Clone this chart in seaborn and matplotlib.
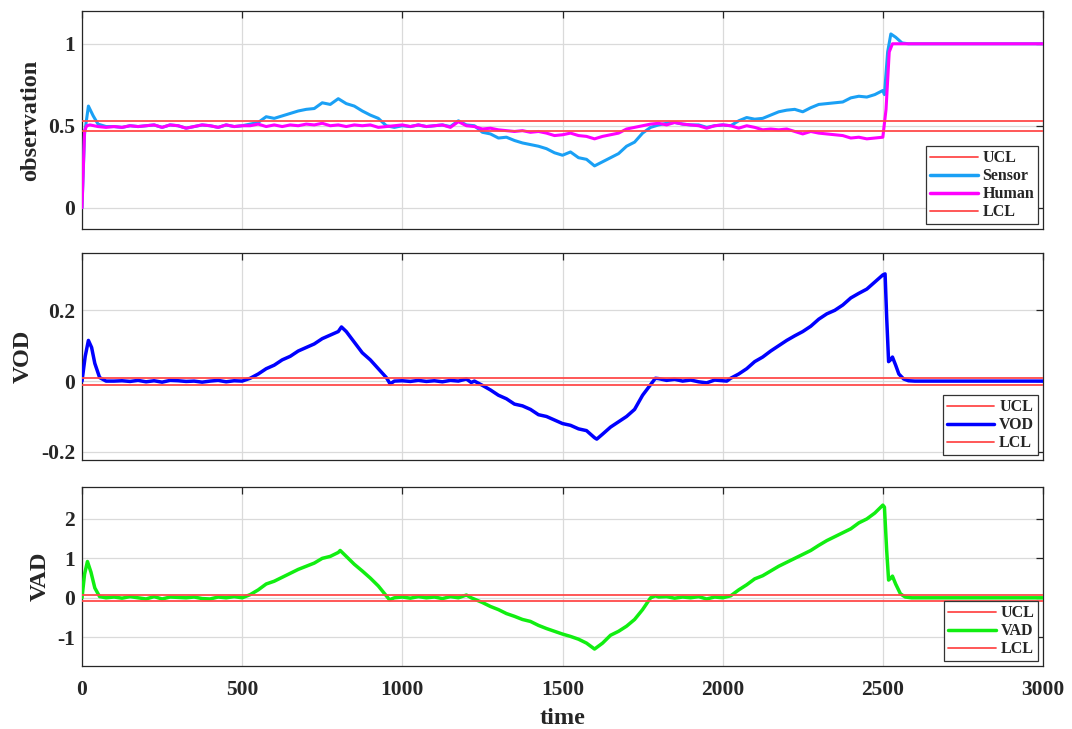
import numpy as np
import pandas as pd
import matplotlib
matplotlib.use("Agg")
import matplotlib.pyplot as plt
import seaborn as sns
from matplotlib.lines import Line2D

# ---------------- data ----------------
obs_ucl = [0.53]
obs_lcl = [0.47]
vod_ucl = [0.01]
vod_lcl = [-0.01]
vad_ucl = [0.08]
vad_lcl = [-0.08]

human_t = [0, 8, 15, 25, 50, 75, 100, 125, 150, 175, 200, 225, 250, 275, 300, 325, 350, 375, 400,
           425, 450, 475, 500, 525, 550, 575, 600, 625, 650, 675, 700, 725, 750, 775, 800, 825, 850,
           875, 900, 925, 950, 975, 1000, 1025, 1050, 1075, 1100, 1125, 1150, 1175, 1200, 1225, 1250,
           1275, 1300, 1325, 1350, 1375, 1400, 1425, 1450, 1475, 1500, 1525, 1550, 1575, 1600, 1625,
           1650, 1675, 1700, 1725, 1750, 1775, 1800, 1825, 1850, 1875, 1900, 1925, 1950, 1975, 2000,
           2025, 2050, 2075, 2100, 2125, 2150, 2175, 2200, 2225, 2250, 2275, 2300, 2325, 2350, 2375,
           2400, 2425, 2450, 2475, 2500, 2510, 2520, 2530, 3000]
human_v = [0.0, 0.47, 0.5, 0.505, 0.495, 0.49, 0.495, 0.49, 0.50, 0.495, 0.50, 0.505, 0.49, 0.505, 0.50,
           0.485, 0.495, 0.505, 0.50, 0.49, 0.505, 0.495, 0.50, 0.50, 0.51, 0.495, 0.505, 0.495, 0.505,
           0.50, 0.51, 0.505, 0.515, 0.50, 0.505, 0.495, 0.505, 0.50, 0.505, 0.49, 0.495, 0.50, 0.505,
           0.495, 0.505, 0.495, 0.50, 0.505, 0.49, 0.525, 0.50, 0.495, 0.48, 0.485, 0.475, 0.47, 0.465,
           0.47, 0.46, 0.465, 0.455, 0.44, 0.445, 0.455, 0.44, 0.435, 0.42, 0.435, 0.445, 0.455, 0.48,
           0.49, 0.50, 0.51, 0.515, 0.505, 0.52, 0.51, 0.505, 0.50, 0.485, 0.50, 0.505, 0.50, 0.485,
           0.50, 0.49, 0.475, 0.48, 0.475, 0.48, 0.465, 0.45, 0.465, 0.455, 0.45, 0.445, 0.44, 0.425,
           0.43, 0.42, 0.425, 0.43, 0.6, 0.95, 1.0, 1.0]

sensor_t = [0, 8, 20, 35, 50, 75, 100, 125, 150, 175, 200, 225, 250, 275, 300, 325, 350, 375, 400,
            425, 450, 475, 500, 525, 550, 575, 600, 625, 650, 675, 700, 725, 750, 775, 800, 825, 850,
            875, 900, 925, 950, 975, 1000, 1025, 1050, 1075, 1100, 1125, 1150, 1175, 1200, 1225, 1250,
            1275, 1300, 1325, 1350, 1375, 1400, 1425, 1450, 1475, 1500, 1525, 1550, 1575, 1600, 1625,
            1650, 1675, 1700, 1725, 1750, 1775, 1800, 1825, 1850, 1875, 1900, 1925, 1950, 1975, 2000,
            2025, 2050, 2075, 2100, 2125, 2150, 2175, 2200, 2225, 2250, 2275, 2300, 2325, 2350, 2375,
            2400, 2425, 2450, 2475, 2500, 2505, 2515, 2525, 2540, 2560, 2580, 3000]
sensor_v = [0.0, 0.45, 0.62, 0.56, 0.51, 0.495, 0.495, 0.49, 0.50, 0.495, 0.50, 0.505, 0.49, 0.505, 0.50,
            0.485, 0.495, 0.505, 0.50, 0.49, 0.505, 0.495, 0.50, 0.51, 0.52, 0.555, 0.545, 0.56, 0.575,
            0.59, 0.60, 0.605, 0.64, 0.63, 0.665, 0.635, 0.62, 0.59, 0.565, 0.545, 0.50, 0.49, 0.50,
            0.495, 0.505, 0.495, 0.50, 0.505, 0.495, 0.53, 0.505, 0.50, 0.46, 0.45, 0.425, 0.43, 0.41,
            0.395, 0.385, 0.375, 0.36, 0.335, 0.32, 0.34, 0.305, 0.295, 0.255, 0.28, 0.305, 0.33, 0.375,
            0.40, 0.455, 0.49, 0.505, 0.515, 0.52, 0.51, 0.505, 0.505, 0.49, 0.50, 0.505, 0.50, 0.53,
            0.55, 0.54, 0.545, 0.565, 0.585, 0.595, 0.60, 0.585, 0.61, 0.63, 0.635, 0.64, 0.645, 0.67,
            0.68, 0.675, 0.69, 0.715, 0.69, 0.95, 1.06, 1.04, 1.005, 1.0, 1.0]

vod_t = [0, 10, 20, 30, 40, 55, 75, 100, 125, 150, 175, 200, 225, 250, 275, 300, 325, 350, 375, 400,
         425, 450, 475, 500, 525, 550, 575, 600, 625, 650, 675, 700, 725, 750, 775, 800, 810, 825, 850,
         875, 900, 925, 950, 962, 975, 1000, 1025, 1050, 1075, 1100, 1125, 1150, 1175, 1200, 1215, 1225,
         1250, 1275, 1300, 1325, 1350, 1375, 1400, 1425, 1450, 1475, 1500, 1525, 1550, 1575, 1600, 1607,
         1625, 1650, 1675, 1700, 1725, 1750, 1775, 1790, 1800, 1825, 1850, 1875, 1900, 1925, 1950, 1975,
         2000, 2013, 2025, 2050, 2075, 2100, 2125, 2150, 2175, 2200, 2225, 2250, 2275, 2300, 2325, 2350,
         2375, 2400, 2425, 2450, 2475, 2500, 2507, 2512, 2518, 2524, 2530, 2540, 2550, 2565, 2580, 2600,
         3000]
vod_v = [0.0, 0.07, 0.115, 0.095, 0.05, 0.01, 0.0, 0.0, 0.001, -0.001, 0.002, -0.002, 0.001, -0.003,
         0.002, 0.001, -0.001, 0.0, -0.003, 0.0, 0.002, -0.002, 0.001, 0.0, 0.008, 0.02, 0.035, 0.045,
         0.06, 0.07, 0.085, 0.095, 0.105, 0.12, 0.13, 0.14, 0.153, 0.14, 0.11, 0.08, 0.06, 0.035, 0.01,
         -0.008, 0.0, 0.001, -0.001, 0.002, -0.001, 0.001, -0.002, 0.002, 0.0, 0.006, -0.004, 0.0,
         -0.012, -0.025, -0.04, -0.05, -0.065, -0.07, -0.08, -0.095, -0.10, -0.11, -0.12, -0.125,
         -0.135, -0.14, -0.16, -0.164, -0.15, -0.13, -0.115, -0.10, -0.08, -0.04, -0.01, 0.008, 0.007,
         0.002, 0.005, 0.0, 0.003, -0.002, -0.005, 0.003, 0.001, 0.0, 0.008, 0.02, 0.035, 0.055, 0.068,
         0.085, 0.10, 0.115, 0.128, 0.14, 0.155, 0.175, 0.19, 0.20, 0.215, 0.235, 0.248, 0.26, 0.28,
         0.30, 0.303, 0.18, 0.055, 0.06, 0.068, 0.045, 0.02, 0.006, 0.001, 0.0, 0.0]

vad_t = [0, 8, 17, 28, 40, 55, 75, 100, 125, 150, 175, 200, 225, 250, 275, 300, 325, 350, 375, 400,
         425, 450, 475, 500, 525, 550, 575, 600, 625, 650, 675, 700, 725, 750, 775, 800, 806, 825, 850,
         875, 900, 925, 950, 960, 975, 1000, 1025, 1050, 1075, 1100, 1125, 1150, 1175, 1200, 1215, 1250,
         1275, 1300, 1325, 1350, 1375, 1400, 1425, 1450, 1475, 1500, 1525, 1550, 1575, 1600, 1625, 1650,
         1675, 1700, 1725, 1750, 1775, 1790, 1800, 1825, 1850, 1875, 1900, 1925, 1950, 1975, 2000, 2025,
         2050, 2075, 2100, 2125, 2150, 2175, 2200, 2225, 2250, 2275, 2300, 2325, 2350, 2375, 2400, 2425,
         2450, 2475, 2500, 2505, 2512, 2518, 2525, 2530, 2540, 2555, 2570, 2590, 3000]
vad_v = [0.0, 0.6, 0.92, 0.65, 0.25, 0.03, 0.0, 0.02, -0.01, 0.03, 0.0, -0.03, 0.03, -0.03, 0.02,
         0.01, 0.0, 0.02, -0.02, -0.03, 0.02, 0.0, 0.03, 0.0, 0.08, 0.2, 0.35, 0.42, 0.52, 0.62, 0.72,
         0.8, 0.88, 1.0, 1.05, 1.15, 1.2, 1.05, 0.85, 0.68, 0.5, 0.3, 0.05, -0.05, 0.0, 0.02, -0.01,
         0.03, 0.0, 0.02, -0.02, 0.03, 0.0, 0.07, 0.0, -0.12, -0.22, -0.3, -0.4, -0.47, -0.55, -0.6,
         -0.7, -0.78, -0.85, -0.92, -0.98, -1.05, -1.15, -1.3, -1.15, -0.95, -0.85, -0.72, -0.55, -0.3,
         0.0, 0.05, 0.02, 0.03, -0.01, 0.02, 0.0, 0.03, -0.03, 0.02, 0.0, 0.05, 0.2, 0.33, 0.48, 0.56,
         0.68, 0.8, 0.9, 1.0, 1.1, 1.2, 1.33, 1.45, 1.55, 1.65, 1.75, 1.9, 2.0, 2.15, 2.35, 2.3, 1.2,
         0.45, 0.5, 0.55, 0.35, 0.1, 0.02, 0.0, 0.0]

x_ticks = [0, 500, 1000, 1500, 2000, 2500, 3000]
obs_ticks = [0, 0.5, 1]
vod_ticks = [-0.2, 0, 0.2]
vad_ticks = [-1, 0, 1, 2]

# ---------------- style ----------------
sns.set_style("white")
plt.rcParams['font.family'] = ['Liberation Serif', 'DejaVu Serif']
plt.rcParams['font.weight'] = 'bold'
plt.rcParams['axes.labelweight'] = 'bold'

C_RED = '#ff4a4a'
C_SENSOR = '#1aa0f5'
C_HUMAN = '#ff00ff'
C_VOD = '#0000ff'
C_VAD = '#11ee11'
LW = 2.2
TICK_FS = 15.5
LAB_FS = 17.5
LEG_FS = 11.5

fig = plt.figure(figsize=(10.72, 7.29), dpi=100)
W, H = 1072, 729
def add_ax(l, r, t, b):
    return fig.add_axes([l / W, 1 - b / H, (r - l) / W, (b - t) / H])

ax1 = add_ax(82, 1043, 11, 229)
ax2 = add_ax(82, 1043, 253, 460)
ax3 = add_ax(82, 1043, 487, 666)

def style(ax, ylim, yticks, ylabel, show_x):
    ax.set_xlim(0, 3000)
    ax.set_ylim(*ylim)
    ax.set_xticks(x_ticks)
    ax.set_yticks(yticks)
    ax.set_yticklabels([('%g' % v) for v in yticks])
    ax.grid(True, color='#dadada', lw=0.9)
    ax.set_axisbelow(True)
    for s in ax.spines.values():
        s.set_color('#262626')
        s.set_linewidth(0.9)
        s.set_visible(True)
    ax.tick_params(direction='in', length=5, width=0.9, color='#262626',
                   top=True, right=True, labelsize=TICK_FS)
    ax.tick_params(axis='y', pad=5)
    ax.tick_params(axis='x', pad=10)
    for lab in ax.get_xticklabels() + ax.get_yticklabels():
        lab.set_fontweight('bold')
    ax.set_ylabel(ylabel, fontsize=LAB_FS, fontweight='bold', labelpad=5)
    if not show_x:
        ax.set_xticklabels([])
    ax.set_xlabel('')

def legend(ax, handles, labels):
    leg = ax.legend(handles, labels, loc='lower right', fontsize=LEG_FS, frameon=True,
                    fancybox=False, edgecolor='#333333', framealpha=1, borderaxespad=0.3,
                    borderpad=0.25, labelspacing=0.12, handlelength=3.0, handletextpad=0.3,
                    prop={'weight': 'bold', 'size': LEG_FS})
    leg.get_frame().set_linewidth(0.9)

# ---- observation ----
df_s = pd.DataFrame({'time': sensor_t, 'val': sensor_v})
df_h = pd.DataFrame({'time': human_t, 'val': human_v})
sns.lineplot(data=df_s, x='time', y='val', ax=ax1, color=C_SENSOR, lw=LW, zorder=3)
sns.lineplot(data=df_h, x='time', y='val', ax=ax1, color=C_HUMAN, lw=LW, zorder=4)
ax1.axhline(obs_ucl[0], color=C_RED, lw=1.3, zorder=5)
ax1.axhline(obs_lcl[0], color=C_RED, lw=1.3, zorder=5)
style(ax1, (-0.13, 1.2), obs_ticks, 'observation', False)
legend(ax1, [Line2D([], [], color=C_RED, lw=1.3), Line2D([], [], color=C_SENSOR, lw=2.5),
             Line2D([], [], color=C_HUMAN, lw=2.5), Line2D([], [], color=C_RED, lw=1.3)],
       ['UCL', 'Sensor', 'Human', 'LCL'])

# ---- VOD ----
df_vod = pd.DataFrame({'time': vod_t, 'val': vod_v})
sns.lineplot(data=df_vod, x='time', y='val', ax=ax2, color=C_VOD, lw=LW + 0.3, zorder=3)
ax2.axhline(vod_ucl[0], color=C_RED, lw=1.3, zorder=5)
ax2.axhline(vod_lcl[0], color=C_RED, lw=1.3, zorder=5)
style(ax2, (-0.223, 0.362), vod_ticks, 'VOD', False)
legend(ax2, [Line2D([], [], color=C_RED, lw=1.3), Line2D([], [], color=C_VOD, lw=2.5),
             Line2D([], [], color=C_RED, lw=1.3)], ['UCL', 'VOD', 'LCL'])

# ---- VAD ----
df_vad = pd.DataFrame({'time': vad_t, 'val': vad_v})
sns.lineplot(data=df_vad, x='time', y='val', ax=ax3, color=C_VAD, lw=LW + 0.3, zorder=3)
ax3.axhline(vad_ucl[0], color=C_RED, lw=1.3, zorder=5)
ax3.axhline(vad_lcl[0], color=C_RED, lw=1.3, zorder=5)
style(ax3, (-1.73, 2.81), vad_ticks, 'VAD', True)
ax3.set_xlabel('time', fontsize=LAB_FS, fontweight='bold', labelpad=6)
legend(ax3, [Line2D([], [], color=C_RED, lw=1.3), Line2D([], [], color=C_VAD, lw=2.5),
             Line2D([], [], color=C_RED, lw=1.3)], ['UCL', 'VAD', 'LCL'])

fig.savefig('out.png', dpi=100)
